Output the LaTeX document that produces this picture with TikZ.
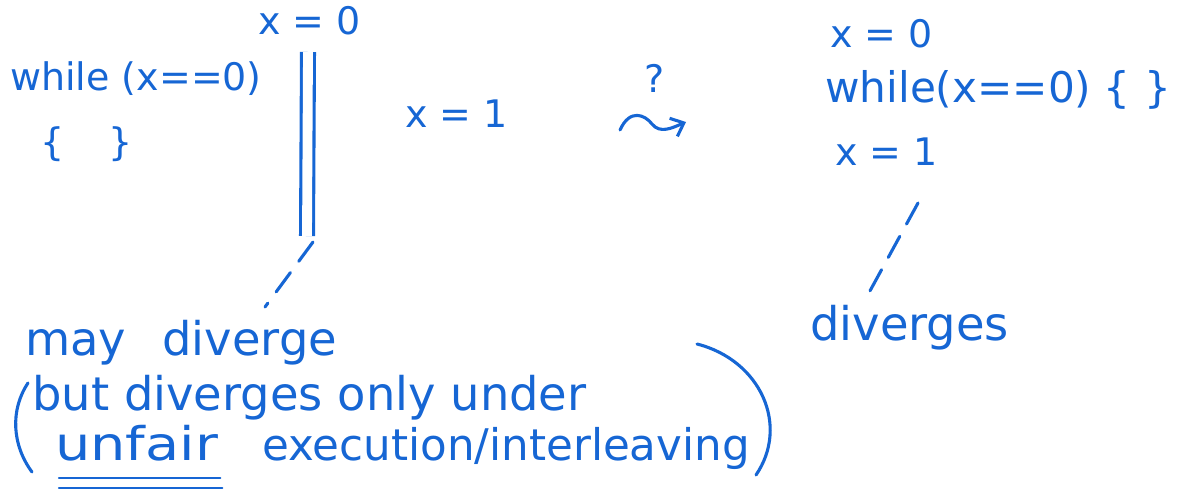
\documentclass[tikz,border=0pt]{standalone}
\usepackage{fontspec}
\setmainfont{DejaVu Sans}
\usetikzlibrary{arrows.meta,positioning,calc}

\definecolor{ink}{RGB}{22,102,212}

\tikzset{
  hand/.style={text=ink, font=\fontsize{33}{38}\selectfont, inner sep=0pt, anchor=base west},
  small/.style={hand, font=\fontsize{27}{32}\selectfont},
  pen/.style={draw=ink, line width=2.2pt, line cap=round},
  dashpen/.style={pen, dash pattern=on 0.6cm off 0.35cm},
}

\begin{document}
\begin{tikzpicture}[x=0.025cm, y=-0.025cm]
\useasboundingbox (0,0) rectangle (1194,494);
% left thread pair
\node[small] (loopL) at (10,90) {while (x==0)};
\node[small] (bodyL) at (40,155) {\{\hspace{1.1cm}\}};
\node[small] (setL) at (258,34) {x = 0};
\node[small] (oneL) at (405,127) {x = 1};
\coordinate (parTop) at (308,52);
\coordinate (parBot) at (307,236);
\draw[pen, line cap=butt, double=white, double distance=7pt] (parTop) -- (parBot);
% refinement question
\node[small, anchor=center] (ask) at (655,78) {?};
\coordinate (wavyA) at (620,130);
\coordinate (wavyB) at (686,122);
\draw[pen, -{Straight Barb[length=8pt, width=14pt]}] (wavyA) .. controls (630,108) and (645,115) .. (652,124) .. controls (660,134) and (672,128) .. (wavyB);
% sequential version
\node[small] (setR) at (830,47) {x = 0};
\node[hand, font=\fontsize{30}{36}\selectfont] (loopR) at (825,102) {while(x==0)\hspace{0.3cm}\{\hspace{0.35cm}\}};
\node[small] (oneR) at (835,165) {x = 1};
\coordinate (oneRfoot) at (918,203);
% verdicts
\node[hand] (divR) at (810,340) {diverges};
\node[hand] (mayL) at (25,355) {may\hspace{0.9cm}diverge};
\node[hand] (butL) at (32,410) {but diverges only under};
\node[hand, xscale=1.2, transform shape] (unfairL) at (55,460) {unfair};
\node[hand, font=\fontsize{31}{36}\selectfont] (execL) at (262,460) {execution/interleaving};
\draw[dashpen] (parBot) ++(6,6) -- ($(mayL.base west)+(240,-48)$);
\draw[dashpen] (oneRfoot) -- ($(divR.base west)+(55,-40)$);
\draw[pen, line width=1.6pt] ($(unfairL.base west)+(4,18)$) -- ($(unfairL.base east)+(2,18)$);
\draw[pen, line width=1.6pt] ($(unfairL.base west)+(4,28)$) -- ($(unfairL.base east)+(4,28)$);
\draw[pen] (28,383) .. controls (10,410) and (12,445) .. (32,472);
\draw[pen] (697,344) .. controls (760,360) and (790,425) .. (756,475);
\end{tikzpicture}
\end{document}
